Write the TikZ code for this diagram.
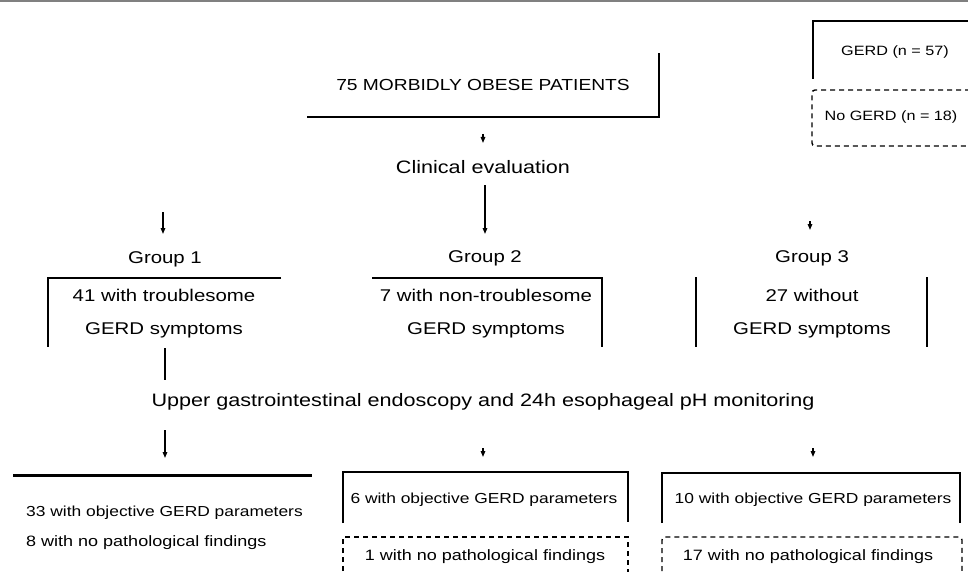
\documentclass[tikz,border=0pt]{standalone}
\usepackage{fontspec}
\setmainfont[FakeStretch=1.2]{Liberation Sans}
\usetikzlibrary{arrows.meta}
\tikzset{
  fs/.style={font=\fontsize{#1}{#1}\selectfont},
  txt/.style={inner sep=0pt, anchor=center},
  edge/.style={line width=1.6pt},
  heavy/.style={line width=2.8pt},
  arr/.style={-{Triangle[length=6pt,width=4.5pt]}, line width=1.4pt},
  dashbox/.style={line width=1.4pt, dash pattern=on 5pt off 4pt},
}
\begin{document}
\begin{tikzpicture}[x=1pt,y=-1pt]
\useasboundingbox (0,0) rectangle (968,572);
\clip (0,0) rectangle (968,572);
\fill[white] (0,0) rectangle (968,572);
\draw[gray, line width=2pt] (0,1) -- (968,1);

% title
\node[txt, fs=16] (title) at (483,85) {75 MORBIDLY OBESE PATIENTS};
\draw[edge] (307,117) -- (659,117) -- (659,53);
\coordinate (t1) at (483,134);
\coordinate (t2) at (483,143);
\draw[arr] (t1) -- (t2);

\node[txt, fs=18] (clin) at (483,167) {Clinical evaluation};
\coordinate (c1) at (485,185);
\coordinate (c2) at (485,234);
\draw[arr] (c1) -- (c2);
\coordinate (c3) at (163,212);
\coordinate (c4) at (163,234);
\draw[arr] (c3) -- (c4);
\coordinate (c5) at (810,221);
\coordinate (c6) at (810,230);
\draw[arr] (c5) -- (c6);

% groups
\node[txt, fs=17] (g1) at (165,259) {Group 1};
\node[txt, fs=17] (g2) at (485,258) {Group 2};
\node[txt, fs=17] (g3) at (812,258) {Group 3};

\draw[edge] (281,278) -- (48,278) -- (48,347);
\node[txt, fs=17] (g1a) at (164,295) {41 with troublesome};
\node[txt, fs=17] (g1b) at (164,330) {GERD symptoms};

\draw[edge] (372,278) -- (602,278) -- (602,347);
\node[txt, fs=17] (g2a) at (486,295) {7 with non-troublesome};
\node[txt, fs=17] (g2b) at (486,330) {GERD symptoms};

\draw[edge] (696,277) -- (696,347);
\draw[edge] (927,277) -- (927,347);
\node[txt, fs=17] (g3a) at (812,295) {27 without};
\node[txt, fs=17] (g3b) at (812,330) {GERD symptoms};

\coordinate (u0) at (165,348);
\coordinate (u1) at (165,380);
\draw[edge] (u0) -- (u1);

\node[txt, fs=18] (ugi) at (483,402) {Upper gastrointestinal endoscopy and 24h esophageal pH monitoring};

\coordinate (d1) at (165,430);
\coordinate (d2) at (165,458);
\draw[arr] (d1) -- (d2);
\coordinate (d3) at (483,448);
\coordinate (d4) at (483,457);
\draw[arr] (d3) -- (d4);
\coordinate (d5) at (813,448);
\coordinate (d6) at (813,457);
\draw[arr] (d5) -- (d6);

% lower left
\draw[line width=3pt] (13,475) -- (312,475);
\node[txt, fs=14.5, anchor=west] (l1a) at (26,513) {33 with objective GERD parameters};
\node[txt, fs=15, anchor=west] (l1b) at (26,543) {8 with no pathological findings};

% lower middle
\draw[edge] (343,472) -- (628,472) -- (628,522);
\draw[heavy] (343,523) -- (343,471);
\node[txt, fs=14.5] (l2a) at (484,500) {6 with objective GERD parameters};
\draw[dashbox] (343,580) -- (343,537) -- (628,537) -- (628,580);
\node[txt, fs=15] (l2b) at (485,557) {1 with no pathological findings};

% lower right
\draw[edge] (662,473) -- (960,473);
\draw[heavy] (662,523) -- (662,472);
\draw[heavy] (960,523) -- (960,472);
\node[txt, fs=14.5] (l3a) at (813,500) {10 with objective GERD parameters};
\draw[dashbox, rounded corners=3pt] (662,580) -- (662,537) -- (962,537) -- (962,580);
\node[txt, fs=15] (l3b) at (808,557) {17 with no pathological findings};

% legend
\draw[heavy] (813,79) -- (813,20);
\draw[edge] (813,21) -- (970,21);
\node[txt, fs=13.5] (leg1) at (895,52) {GERD (n = 57)};
\draw[dashbox, rounded corners=3pt] (970,90) -- (812,90) -- (812,146) -- (970,146);
\node[txt, fs=13.5] (leg2) at (891,117) {No GERD (n = 18)};
\end{tikzpicture}
\end{document}
